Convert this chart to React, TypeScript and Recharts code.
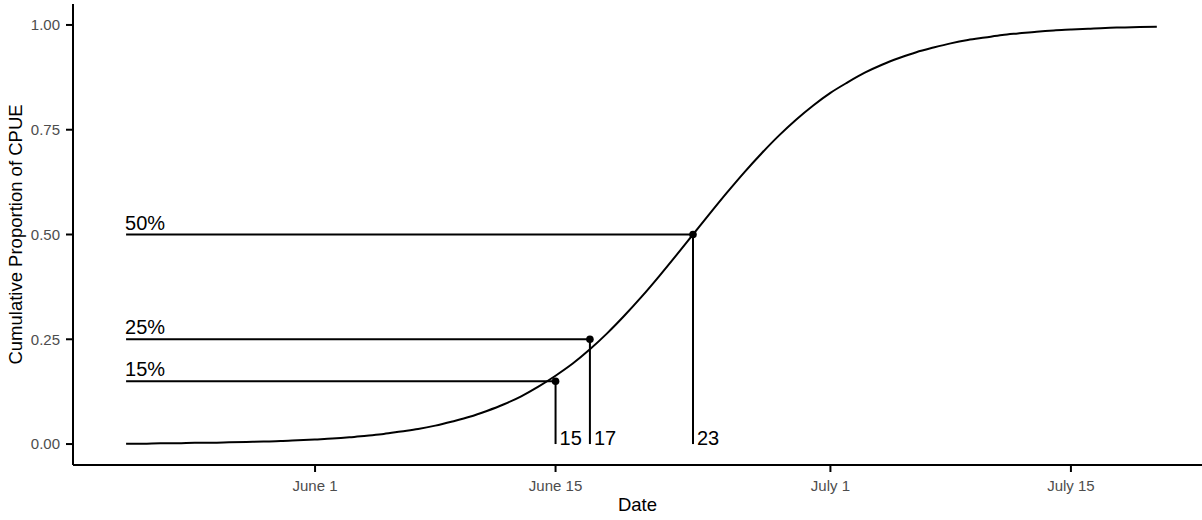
import React from "react";
import {
  ComposedChart,
  Line,
  Scatter,
  XAxis,
  YAxis,
  ReferenceLine,
} from "recharts";

// days counted from June 1 (0 = June 1, -11 = May 21, 49 = July 20)
const curveDays = [
  -11, -10, -9, -8, -7, -6, -5, -4, -3, -2, -1,
  0, 1, 2, 3, 4, 5, 6, 7, 8, 9, 10, 11, 12, 13, 14, 15, 16, 17, 18, 19,
  20, 21, 22, 23, 24, 25, 26, 27, 28, 29,
  30, 31, 32, 33, 34, 35, 36, 37, 38, 39, 40, 41, 42, 43, 44, 45, 46, 47, 48, 49,
];

// fitted cumulative proportion of CPUE for each day above
const cumProportion = [
  0.001, 0.001, 0.002, 0.002, 0.003, 0.003, 0.004, 0.005, 0.006, 0.007, 0.009,
  0.011, 0.013, 0.016, 0.02, 0.024, 0.03, 0.036, 0.044, 0.054, 0.065, 0.079,
  0.095, 0.114, 0.137, 0.163, 0.192, 0.226, 0.264, 0.306, 0.351,
  0.399, 0.449, 0.5, 0.551, 0.601, 0.649, 0.694, 0.736, 0.774, 0.808,
  0.838, 0.863, 0.886, 0.905, 0.921, 0.935, 0.946, 0.956, 0.964, 0.97,
  0.976, 0.98, 0.984, 0.987, 0.989, 0.991, 0.993, 0.994, 0.995, 0.996,
];

// run-timing milestones
const milestonePct = [0.15, 0.25, 0.5];
const milestoneDay = [14, 16, 22];
const milestoneLabels = ["15%", "25%", "50%"];
const milestoneDayLabels = ["15", "17", "23"];
const seasonStartDay = -11;

const xTickDays = [0, 14, 30, 44];
const xTickLabels = ["June 1", "June 15", "July 1", "July 15"];
const yTicks = [0, 0.25, 0.5, 0.75, 1];

const curveData = curveDays.map((day, i) => ({ day, p: cumProportion[i] }));
const dotData = milestoneDay.map((day, i) => ({ day, p: milestonePct[i] }));
const pctLabelData = milestonePct.map((p, i) => ({
  day: seasonStartDay,
  p,
  text: milestoneLabels[i],
}));
const dayLabelData = milestoneDay.map((day, i) => ({
  day,
  p: 0,
  text: milestoneDayLabels[i],
}));

const INK = "#000000";
const TICK_TEXT = "#4d4d4d";

const PctLabel = (props: any) => (
  <text x={props.cx - 1} y={props.cy - 5} fontSize={20} fill={INK}>
    {props.payload.text}
  </text>
);

const DayLabel = (props: any) => (
  <text x={props.cx + 4} y={props.cy + 1} fontSize={20} fill={INK}>
    {props.payload.text}
  </text>
);

const Dot = (props: any) => (
  <circle cx={props.cx} cy={props.cy} r={3.8} fill={INK} />
);

export default function App() {
  return (
    <div
      style={{
        position: "absolute",
        left: 0,
        top: 0,
        width: 1202,
        height: 520,
        background: "#ffffff",
        fontFamily: "'Liberation Sans', Arial, sans-serif",
      }}
    >
      <ComposedChart
        width={1202}
        height={520}
        margin={{ top: 4, right: 0, bottom: 0, left: 0 }}
      >
        <XAxis
          type="number"
          dataKey="day"
          domain={[-14.09, 51.63]}
          allowDataOverflow
          ticks={xTickDays}
          tickFormatter={(v: number) => xTickLabels[xTickDays.indexOf(v)] ?? ""}
          height={55}
          tickSize={7}
          tickMargin={8}
          tick={{ fontSize: 15, fill: TICK_TEXT }}
          axisLine={{ stroke: INK, strokeWidth: 2 }}
          tickLine={{ stroke: INK, strokeWidth: 2 }}
          label={{
            value: "Date",
            position: "insideBottom",
            offset: 9,
            style: { fontSize: 18.5, fill: INK },
          }}
        />
        <YAxis
          type="number"
          dataKey="p"
          domain={[-0.05, 1.05]}
          allowDataOverflow
          ticks={yTicks}
          tickFormatter={(v: number) => v.toFixed(2)}
          width={73}
          tickSize={7}
          tickMargin={6}
          tick={{ fontSize: 15, fill: TICK_TEXT }}
          axisLine={{ stroke: INK, strokeWidth: 2 }}
          tickLine={{ stroke: INK, strokeWidth: 2 }}
          label={{
            value: "Cumulative Proportion of CPUE",
            angle: -90,
            position: "insideLeft",
            offset: 15,
            style: { fontSize: 18.5, fill: INK, textAnchor: "middle" },
          }}
        />

        {milestonePct.map((p, i) => (
          <ReferenceLine
            key={`h-${i}`}
            segment={[
              { x: seasonStartDay, y: p },
              { x: milestoneDay[i], y: p },
            ]}
            stroke={INK}
            strokeWidth={2}
          />
        ))}
        {milestonePct.map((p, i) => (
          <ReferenceLine
            key={`v-${i}`}
            segment={[
              { x: milestoneDay[i], y: 0 },
              { x: milestoneDay[i], y: p },
            ]}
            stroke={INK}
            strokeWidth={2}
          />
        ))}

        <Line
          data={curveData}
          dataKey="p"
          type="monotone"
          stroke={INK}
          strokeWidth={2}
          dot={false}
          activeDot={false}
          isAnimationActive={false}
        />
        <Scatter data={dotData} dataKey="p" shape={Dot} isAnimationActive={false} />
        <Scatter
          data={pctLabelData}
          dataKey="p"
          shape={PctLabel}
          isAnimationActive={false}
        />
        <Scatter
          data={dayLabelData}
          dataKey="p"
          shape={DayLabel}
          isAnimationActive={false}
        />
      </ComposedChart>
    </div>
  );
}
